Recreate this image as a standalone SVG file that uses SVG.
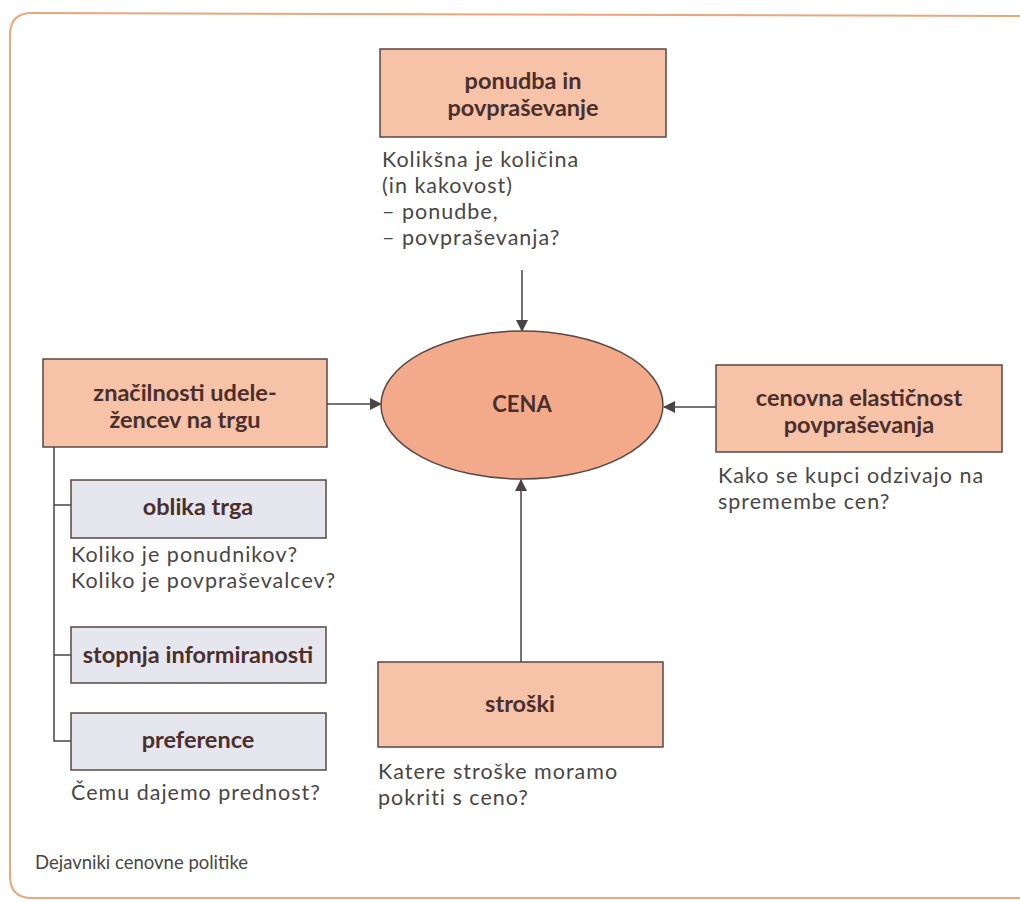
<svg xmlns="http://www.w3.org/2000/svg" width="1020" height="902" viewBox="0 0 1020 902">
<style>
.box{fill:#f6c2a8;stroke:#5a4745;stroke-width:1.5}
.gbox{fill:#e6e6ee;stroke:#5a4745;stroke-width:1.5}
.lbl{font-family:Lato,"Open Sans",sans-serif;font-weight:bold;font-size:23.5px;fill:#4b2f2c;text-anchor:middle}
.desc{font-family:Lato,"Open Sans",sans-serif;font-size:21.5px;letter-spacing:1px;fill:#4a4646}
.con{stroke:#4a4444;stroke-width:1.5;fill:none}
</style>
<defs>
<marker id="ah" markerWidth="12" markerHeight="12" refX="11" refY="6" orient="auto" markerUnits="userSpaceOnUse">
<path d="M0,0 L12,6 L0,12 Z" fill="#4a4444"/>
</marker>
</defs>
<rect width="1020" height="902" fill="#ffffff"/>
<path d="M1020,16 L32,13 Q10,13 10,35 L10,876 Q10,898 32,898 L1020,898" fill="none" stroke="#e9a77c" stroke-width="2"/>
<g id="connectors">
<line class="con" x1="522" y1="270" x2="522" y2="331" marker-end="url(#ah)"/>
<line class="con" x1="327" y1="404" x2="381" y2="404" marker-end="url(#ah)"/>
<line class="con" x1="716" y1="407" x2="664" y2="407" marker-end="url(#ah)"/>
<line class="con" x1="521" y1="662" x2="521" y2="480" marker-end="url(#ah)"/>
<path class="con" d="M54,447 L54,741 L71,741 M54,505 L71,505 M54,655 L71,655"/>
</g>
<g id="node-ponudba">
<rect class="box" x="380" y="49" width="286" height="88"/>
<text class="lbl" x="523" y="89">ponudba in</text>
<text class="lbl" x="523" y="116">povpraševanje</text>
<text class="desc" x="382" y="167">Kolikšna je količina</text>
<text class="desc" x="382" y="193">(in kakovost)</text>
<text class="desc" x="382" y="219">–  ponudbe,</text>
<text class="desc" x="382" y="245">–  povpraševanja?</text>
</g>
<g id="node-cena">
<ellipse cx="522" cy="405" rx="141" ry="74" fill="#f2aa8b" stroke="#5a4745" stroke-width="1.5"/>
<text class="lbl" x="522" y="412" style="font-size:22px">CENA</text>
</g>
<g id="node-znacilnosti">
<rect class="box" x="43" y="359" width="284" height="88"/>
<text class="lbl" x="185" y="401">značilnosti udele-</text>
<text class="lbl" x="185" y="428">žencev na trgu</text>
</g>
<g id="node-elasticnost">
<rect class="box" x="716" y="365" width="286" height="87"/>
<text class="lbl" x="859" y="406">cenovna elastičnost</text>
<text class="lbl" x="859" y="433">povpraševanja</text>
<text class="desc" x="718" y="483">Kako se kupci odzivajo na</text>
<text class="desc" x="718" y="509">spremembe cen?</text>
</g>
<g id="node-oblika">
<rect class="gbox" x="71" y="480" width="255" height="58"/>
<text class="lbl" x="198" y="515">oblika trga</text>
<text class="desc" x="71" y="562">Koliko je ponudnikov?</text>
<text class="desc" x="71" y="588">Koliko je povpraševalcev?</text>
</g>
<g id="node-stopnja">
<rect class="gbox" x="71" y="627" width="255" height="56"/>
<text class="lbl" x="198" y="663">stopnja informiranosti</text>
</g>
<g id="node-preference">
<rect class="gbox" x="71" y="713" width="255" height="57"/>
<text class="lbl" x="198" y="748">preference</text>
<text class="desc" x="71" y="800">Čemu dajemo prednost?</text>
</g>
<g id="node-stroski">
<rect class="box" x="378" y="662" width="285" height="85"/>
<text class="lbl" x="520" y="712">stroški</text>
<text class="desc" x="378" y="779">Katere stroške moramo</text>
<text class="desc" x="378" y="805">pokriti s ceno?</text>
</g>
<text x="35" y="869" font-family="Lato,'Open Sans',sans-serif" font-size="18.5" fill="#4a4646">Dejavniki cenovne politike</text>
</svg>
